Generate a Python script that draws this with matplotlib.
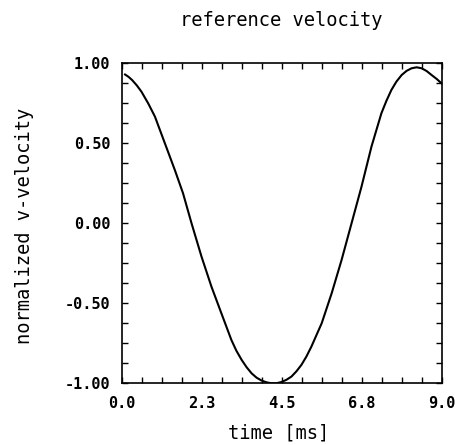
import matplotlib
matplotlib.use("Agg")
import matplotlib.pyplot as plt
from matplotlib.ticker import FixedLocator, MultipleLocator

# values
time_ms = [0.10, 0.20, 0.30, 0.43, 0.56, 0.75, 0.94, 1.22, 1.50, 1.73, 1.97,
           2.25, 2.53, 2.81, 3.09, 3.23, 3.38, 3.52, 3.66, 3.80, 3.94, 4.08,
           4.22, 4.35, 4.50, 4.64, 4.78, 4.92, 5.06, 5.20, 5.34, 5.63, 5.91,
           6.19, 6.47, 6.75, 7.03, 7.31, 7.45, 7.59, 7.73, 7.88, 8.02, 8.16,
           8.30, 8.44, 8.58, 8.72, 8.86, 9.00]
velocity = [0.93, 0.915, 0.895, 0.862, 0.823, 0.75, 0.667, 0.50, 0.333, 0.188,
            0.0, -0.208, -0.396, -0.563, -0.729, -0.796, -0.854, -0.90, -0.938,
            -0.965, -0.983, -0.994, -1.0, -1.0, -0.992, -0.978, -0.958, -0.925,
            -0.885, -0.833, -0.771, -0.625, -0.438, -0.229, 0.0, 0.229, 0.479,
            0.688, 0.765, 0.833, 0.885, 0.927, 0.953, 0.969, 0.975, 0.969,
            0.952, 0.927, 0.903, 0.875]

xticks = [0.0, 2.25, 4.5, 6.75, 9.0]
xtick_labels = ["0.0", "2.3", "4.5", "6.8", "9.0"]
yticks = [-1.0, -0.5, 0.0, 0.5, 1.0]
ytick_labels = ["-1.00", "-0.50", "0.00", "0.50", "1.00"]

plt.rcParams['font.family'] = ['DejaVu Sans Mono']

fig = plt.figure(figsize=(4.55, 4.45), dpi=100)
ax = fig.add_axes([121.5 / 455, (445 - 383.3) / 445, 320 / 455, 320 / 445])

ax.plot(time_ms, velocity, color="black", lw=1.5, solid_joinstyle="round")

ax.set_xlim(0, 9)
ax.set_ylim(-1, 1)
ax.xaxis.set_major_locator(FixedLocator(xticks))
ax.set_xticklabels(xtick_labels, fontweight="bold")
ax.yaxis.set_major_locator(FixedLocator(yticks))
ax.set_yticklabels(ytick_labels, fontweight="bold")
ax.xaxis.set_minor_locator(MultipleLocator(9 / 16))
ax.yaxis.set_minor_locator(MultipleLocator(0.125))

ax.tick_params(which="both", direction="in", top=True, right=True,
               length=4.5, width=1.0, labelsize=11)
ax.tick_params(axis="x", pad=9)
ax.tick_params(axis="y", pad=8)
for s in ax.spines.values():
    s.set_linewidth(1.2)

fig.text(281.5 / 455, 1 - 20 / 445, "reference velocity", ha="center",
         va="center", fontsize=13.5)
ax.set_xlabel("time [ms]", fontsize=13.5)
ax.xaxis.set_label_coords(0.49, (383.3 - 433) / 320)
ax.xaxis.label.set_va("center")
ax.set_ylabel("normalized v-velocity", fontsize=13.5)
ax.yaxis.set_label_coords((25 - 121.5) / 320, (383.3 - 226) / 320)
ax.yaxis.label.set_va("center")

fig.savefig("out.png", dpi=100)
